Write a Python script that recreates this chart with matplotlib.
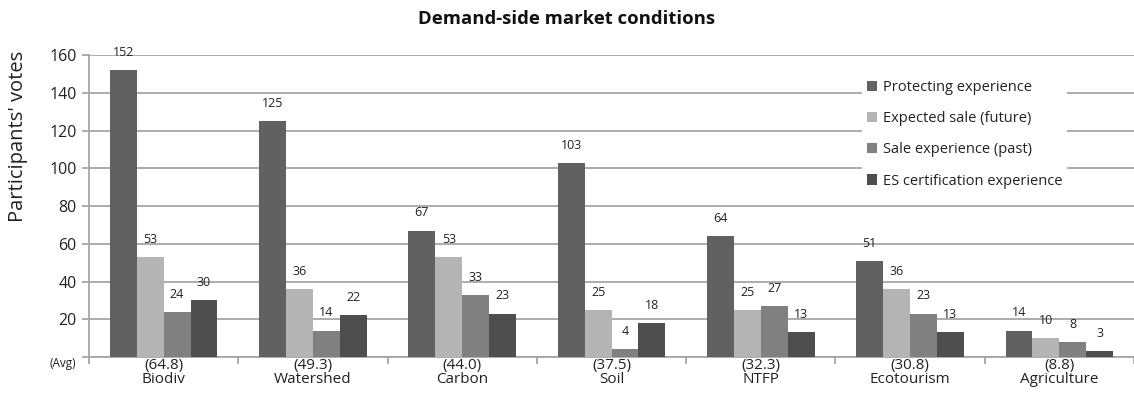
import numpy as np
import matplotlib
matplotlib.use('Agg')
import matplotlib.pyplot as plt

# dados
categorias = ['Biodiv', 'Watershed', 'Carbon', 'Soil', 'NTFP', 'Ecotourism', 'Agriculture']
medias = ['(64.8)', '(49.3)', '(44.0)', '(37.5)', '(32.3)', '(30.8)', '(8.8)']
protecting = [152, 125, 67, 103, 64, 51, 14]
expected_sale = [53, 36, 53, 25, 25, 36, 10]
sale_past = [24, 14, 33, 4, 27, 23, 8]
certification = [30, 22, 23, 18, 13, 13, 3]

series = [
    ('Protecting experience', protecting, '#616161'),
    ('Expected sale (future)', expected_sale, '#b4b4b4'),
    ('Sale experience (past)', sale_past, '#808080'),
    ('ES certification experience', certification, '#4e4e4e'),
]

plt.rcParams['font.family'] = ['Open Sans', 'DejaVu Sans']
texto = '#222222'
cinza = '#a6a6a6'

fig = plt.figure(figsize=(11.34, 3.94), dpi=100)
ax = fig.add_axes([0.0785, 0.094, 0.9215, 0.766])

x = np.arange(len(categorias)) + 0.5
largura = 0.18
for i, (nome, valores, cor) in enumerate(series):
    pos = x + (i - 1.5) * largura
    barras = ax.bar(pos, valores, largura, color=cor, label=nome, zorder=3)
    for b, v in zip(barras, valores):
        ax.annotate(str(v), (b.get_x() + b.get_width() / 2, v), xytext=(0, 8),
                    textcoords='offset points', ha='center', va='bottom',
                    fontsize=9, color=texto)

ax.set_xlim(0, len(categorias))
ax.set_ylim(0, 160)
ax.set_yticks(range(0, 161, 20))
ax.set_yticklabels([''] + [str(v) for v in range(20, 161, 20)], fontsize=11.5, color=texto)
ax.yaxis.grid(True, color=cinza, linewidth=1.3, zorder=0)
ax.set_axisbelow(True)

ax.set_xticks(x)
ax.set_xticklabels([m + '\n' + c for m, c in zip(medias, categorias)],
                   fontsize=11, color=texto, linespacing=0.9)
ax.set_xticks(np.arange(len(categorias) + 1), minor=True)
ax.tick_params(axis='x', which='major', length=0, pad=1)
ax.tick_params(axis='x', which='minor', length=5, color=cinza, width=1.3)
ax.tick_params(axis='y', length=5, color=cinza, width=1.3, pad=4)

for lado in ['top', 'right']:
    ax.spines[lado].set_visible(False)
for lado in ['left', 'bottom']:
    ax.spines[lado].set_color(cinza)
    ax.spines[lado].set_linewidth(1.3)

fig.text(0.044, 0.077, '(Avg)', fontsize=8.5, color=texto, ha='left', va='center')

ax.set_ylabel("Participants' votes", fontsize=14.5, color=texto)
ax.yaxis.set_label_coords(-0.058, 0.73)
fig.text(0.5, 0.952, 'Demand-side market conditions', ha='center', va='center',
         fontsize=13.3, fontweight='bold', color='#111111')

leg = ax.legend(loc='upper left', bbox_to_anchor=(0.733, 0.955), fontsize=10.5,
                frameon=True, facecolor='white', edgecolor='none', framealpha=1,
                handlelength=0.7, handleheight=0.7, handletextpad=0.4,
                labelspacing=1.1, borderpad=0.3, fancybox=False)
for t in leg.get_texts():
    t.set_color(texto)

fig.savefig('out.png', dpi=100)
